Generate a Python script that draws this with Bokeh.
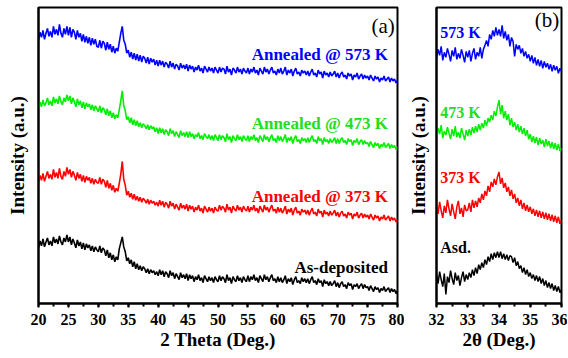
import numpy as np
from bokeh.plotting import figure
from bokeh.layouts import row
from bokeh.models import Range1d, Label, SingleIntervalTicker, FixedTicker
from bokeh.embed import file_html
from bokeh.resources import INLINE

# ---------------- data (panel a: 20..80 deg, step 0.25) ----------------
theta_a = np.linspace(20, 80, 241)

blue_a = [
    265,273,268,275,266,272,277,269,274,268,279,271,276,270,281,272,268,277,271,279,
    270,278,268,276,273,266,275,268,272,264,271,263,269,262,268,260,267,261,266,259,
    258,265,257,264,262,255,263,256,261,253,259,252,257,254,263,272,279,265,261,252,
    255,248,253,246,252,245,251,244,250,243,249,247,242,248,241,247,243,246,240,245,
    239,245,240,244,238,243,241,237,244,238,242,236,241,239,235,242,237,240,236,241,
    234,240,236,239,233,238,235,240,234,237,232,239,236,233,238,234,237,232,238,235,
    232,238,233,237,236,231,239,233,236,230,237,235,232,238,233,236,231,237,234,232,
    237,231,236,233,238,232,235,230,237,234,231,238,233,236,231,235,238,232,234,230,
    236,232,237,231,234,238,230,235,232,236,229,234,237,231,233,229,235,232,234,230,
    234,229,233,236,230,232,228,235,231,233,227,234,230,232,228,233,229,231,234,228,
    232,227,231,233,228,230,226,232,229,231,225,230,228,232,226,229,231,226,230,227,
    229,225,230,227,224,229,226,228,223,227,225,229,224,226,228,223,227,224,226,222,
    225,
]
green_a = [
    196,203,198,205,199,202,207,200,204,199,208,202,206,201,209,203,200,207,203,210,
    204,209,201,207,203,198,206,200,204,197,203,196,202,198,201,195,200,194,199,196,
    193,199,192,197,195,190,196,189,194,187,192,186,190,187,195,204,214,199,194,185,
    188,182,187,180,185,179,184,178,182,177,181,179,176,180,175,179,176,178,173,177,
    171,177,172,176,170,175,173,169,176,171,174,168,173,170,167,174,169,172,168,173,
    167,173,168,171,166,170,168,172,166,169,165,171,168,166,170,165,169,164,170,167,
    164,170,165,169,167,163,171,165,168,162,169,166,164,170,165,168,163,169,166,164,
    169,163,168,165,170,164,167,162,169,166,163,170,165,168,163,167,170,164,166,162,
    169,164,168,163,166,170,162,167,164,168,161,166,169,163,165,161,167,164,166,162,
    167,162,166,169,163,165,161,168,164,166,160,167,163,165,161,166,162,164,167,161,
    166,161,165,167,162,164,160,166,163,165,159,164,162,166,160,163,165,160,164,161,
    162,158,163,160,157,162,159,161,156,160,158,162,157,159,161,156,160,157,159,155,
    158,
]
red_a = [
    122,129,124,131,123,128,133,126,130,125,135,127,132,126,136,128,125,133,128,137,
    130,135,127,133,129,124,132,126,130,123,129,122,128,124,127,121,126,120,125,122,
    121,127,120,125,123,117,124,116,121,114,119,112,116,113,121,130,143,125,119,109,
    113,107,111,105,110,104,108,103,107,102,106,104,101,105,100,104,101,103,99,102,
    98,104,99,103,97,102,100,96,103,98,101,95,100,97,94,101,96,99,95,100,
    93,99,95,98,92,97,94,99,93,96,91,98,95,92,97,93,96,91,97,94,
    93,99,94,98,96,92,100,94,97,91,98,95,93,99,94,97,92,98,95,93,
    98,92,97,94,99,93,96,91,98,95,92,99,94,97,92,96,99,93,95,91,
    97,92,96,91,94,98,90,95,92,96,89,94,97,91,93,89,95,92,94,90,
    94,89,93,96,90,92,88,95,91,93,87,94,90,92,88,93,89,91,94,88,
    92,87,91,93,88,90,86,92,89,91,85,90,88,92,86,89,91,86,90,87,
    89,85,90,87,84,89,86,88,83,87,85,89,84,86,88,83,87,84,86,82,
    85,
]
black_a = [
    56,63,58,65,57,62,66,59,63,58,67,61,65,60,68,62,59,66,62,69,
    62,67,59,65,61,56,64,58,62,55,61,54,60,56,59,53,58,52,57,54,
    52,58,51,56,54,48,54,46,51,44,49,42,47,44,55,61,67,57,52,43,
    46,40,44,37,42,35,40,34,38,33,37,35,31,35,30,34,31,33,29,32,
    28,34,29,33,27,32,30,26,33,28,31,25,30,27,24,31,26,29,25,30,
    23,29,25,28,22,27,24,29,23,26,21,28,25,22,27,23,26,21,27,24,
    22,28,23,27,25,21,29,23,26,20,27,24,22,28,23,26,21,27,24,22,
    28,22,27,24,29,23,26,21,28,25,22,29,24,27,22,26,29,23,25,21,
    27,22,26,21,24,28,20,25,22,26,19,24,27,21,23,20,26,22,25,21,
    25,20,24,27,21,23,19,25,21,23,17,24,20,22,18,22,18,20,23,17,
    21,16,20,22,17,19,15,21,18,20,14,19,17,20,15,18,20,15,19,16,
    17,13,18,15,12,17,14,16,11,15,13,17,12,14,16,11,15,12,14,10,
    13,
]

# ---------------- data (panel b: 32..36 deg, step 0.05) ----------------
theta_b = np.linspace(32, 36, 81)

blue_b = [
    246,255,249,258,244,252,247,256,250,243,254,248,257,245,251,246,255,249,242,253,
    247,254,243,251,256,245,252,248,257,246,255,259,264,258,270,265,274,268,277,269,
    275,268,279,266,273,264,270,258,267,263,248,260,255,259,251,256,248,253,246,250,
    243,249,241,247,239,245,238,244,236,243,237,241,235,240,233,239,234,238,231,236,
    233,
]
green_b = [
    168,176,170,179,166,173,169,177,171,165,175,168,178,167,172,166,176,170,164,174,
    168,175,169,177,171,178,172,180,174,181,176,184,178,186,182,189,184,193,188,197,
    204,190,199,186,193,184,190,179,186,177,182,174,180,172,178,170,176,168,174,165,
    170,162,168,161,167,159,166,160,164,157,165,158,163,156,162,155,161,154,160,153,
    156,
]
red_b = [
    99,90,102,93,86,98,91,104,95,88,100,92,85,97,103,90,96,87,99,93,
    94,101,92,104,96,103,97,106,101,110,104,113,108,118,112,122,117,125,119,127,
    132,120,126,116,121,112,117,108,114,105,110,101,106,98,104,95,101,93,99,92,
    97,90,95,88,94,87,93,86,92,85,91,84,90,83,89,82,88,81,87,80,
    84,
]
black_b = [
    29,20,32,24,17,30,9,27,21,33,25,19,31,23,28,18,26,32,22,29,
    24,31,26,34,28,36,30,39,34,41,36,44,39,47,42,50,44,51,46,52,
    46,52,45,50,44,49,43,48,47,41,46,38,42,35,38,31,36,29,34,27,
    31,25,29,23,28,22,27,20,25,18,23,16,21,15,20,13,18,12,17,11,
    14,
]

labels_a = ["Annealed @ 573 K", "Annealed @ 473 K", "Annealed @ 373 K", "As-deposited"]
labels_b = ["573 K", "473 K", "373 K", "Asd."]
colors = ["#0000ff", "#00ee00", "#ff0000", "#000000"]
label_colors = ["#0000ff", "#22dd22", "#ff0000", "#000000"]

FONT = "'Liberation Serif'"


def style(p, xtitle, interval, ystandoff):
    p.outline_line_color = "black"
    p.outline_line_width = 2
    p.xgrid.visible = False
    p.ygrid.visible = False
    p.background_fill_color = "white"
    p.border_fill_color = "white"
    xa = p.xaxis[0]
    xa.ticker = SingleIntervalTicker(interval=interval, num_minor_ticks=2)
    xa.axis_line_width = 2
    xa.major_tick_line_width = 2
    xa.minor_tick_line_width = 2
    xa.major_tick_in = 0
    xa.major_tick_out = 4
    xa.minor_tick_in = 0
    xa.minor_tick_out = 3
    xa.major_label_standoff = 6
    xa.major_label_text_font = FONT
    xa.major_label_text_font_style = "bold"
    xa.major_label_text_font_size = "16px"
    xa.major_label_text_color = "black"
    xa.axis_label = xtitle
    xa.axis_label_text_font = FONT
    xa.axis_label_text_font_style = "bold"
    xa.axis_label_text_font_size = "19px"
    xa.axis_label_text_color = "black"
    xa.axis_label_standoff = 1
    ya = p.yaxis[0]
    ya.ticker = FixedTicker(ticks=[])
    ya.axis_line_width = 2
    ya.major_tick_out = 0
    ya.major_tick_in = 0
    ya.minor_tick_line_color = None
    ya.major_tick_line_color = None
    ya.major_label_standoff = 0
    ya.major_label_text_font_size = "0px"
    ya.axis_label = "Intensity (a.u.)"
    ya.axis_label_text_font = FONT
    ya.axis_label_text_font_style = "bold"
    ya.axis_label_text_font_size = "19px"
    ya.axis_label_text_color = "black"
    ya.axis_label_standoff = ystandoff


# ---------------- panel (a) ----------------
p1 = figure(width=404, height=358, output_backend="svg", toolbar_location=None,
            x_range=Range1d(20, 80), y_range=Range1d(0, 298),
            min_border_left=38, min_border_right=7, min_border_top=5, min_border_bottom=55)
style(p1, "2 Theta (Deg.)", 5, 11)
for ys, c in zip([blue_a, green_a, red_a, black_a], colors):
    p1.line(theta_a, ys, line_color=c, line_width=1.6)

label_y_a = [251, 181, 108, 36]
for t, yy, c in zip(labels_a, label_y_a, label_colors):
    p1.add_layout(Label(x=78.4, y=yy, text=t, text_align="right", text_baseline="middle",
                        text_font=FONT, text_font_style="bold", text_font_size="17px",
                        text_color=c))
p1.add_layout(Label(x=79.55, y=279, text="(a)", text_align="right", text_baseline="middle",
                    text_font=FONT, text_font_size="21px", text_color="black"))

# ---------------- panel (b) ----------------
p2 = figure(width=163, height=358, output_backend="svg", toolbar_location=None,
            x_range=Range1d(32, 36), y_range=Range1d(0, 297),
            min_border_left=28, min_border_right=6, min_border_top=7, min_border_bottom=54)
style(p2, "2θ (Deg.)", 1, 8)
for ys, c in zip([blue_b, green_b, red_b, black_b], colors):
    p2.line(theta_b, ys, line_color=c, line_width=1.5)

label_y_b = [272, 192, 126, 56]
for t, yy, c in zip(labels_b, label_y_b, label_colors):
    p2.add_layout(Label(x=32.12, y=yy, text=t, text_align="left", text_baseline="middle",
                        text_font=FONT, text_font_style="bold", text_font_size="16px",
                        text_color=c))
p2.add_layout(Label(x=35.93, y=284, text="(b)", text_align="right", text_baseline="middle",
                    text_font=FONT, text_font_size="21px", text_color="black"))

layout = row(p1, p2)
open("out.html", "w").write(file_html(layout, INLINE))
